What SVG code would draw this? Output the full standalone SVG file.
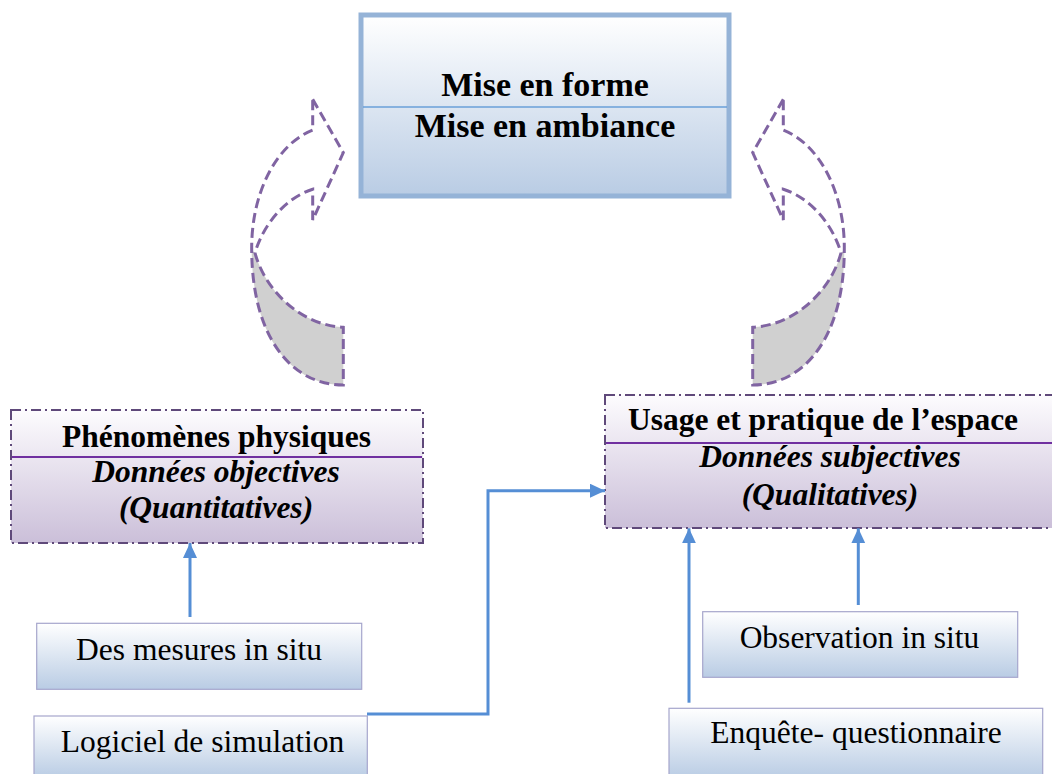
<svg xmlns="http://www.w3.org/2000/svg" width="1052" height="774" viewBox="0 0 1052 774">
<defs>
<linearGradient id="gBlue" x1="0" y1="0" x2="0" y2="1">
<stop offset="0" stop-color="#ffffff"/><stop offset="1" stop-color="#b9cce4"/>
</linearGradient>
<linearGradient id="gPurple" x1="0" y1="0" x2="0" y2="1">
<stop offset="0" stop-color="#fdfcfe"/><stop offset="1" stop-color="#cbbfd9"/>
</linearGradient>
<marker id="ah" markerUnits="userSpaceOnUse" markerWidth="16" markerHeight="15" refX="15" refY="7" orient="auto">
<path d="M0,0 L15,7 L0,14 Z" fill="#558ed5"/>
</marker>
<g id="curl">
<path d="M 255,253 C 265,290 300,325 343.3,327.3 L 343.3,385 C 290,385 252,335 251.7,250 Z" fill="#d0d0d0"/>
<path d="M 312.7,99.3 L 343.3,152.7 L 312.7,220 L 312.7,189.3 C 285,198 263,225 255,253 C 265,290 300,325 343.3,327.3 L 343.3,385 C 290,385 252,335 251.7,250 C 251,195 275,145 312.7,130 Z" fill="none" stroke="#8064a2" stroke-width="3" stroke-dasharray="10 5"/>
</g>
</defs>
<style>
text{font-family:"Liberation Serif","Times New Roman",serif;fill:#000;text-anchor:middle}
.b{font-weight:bold}
.bi{font-weight:bold;font-style:italic}
.src{fill:url(#gBlue);stroke:#a6a6cc;stroke-width:1.2}
.pbox{fill:url(#gPurple);stroke:#5f497a;stroke-width:2;stroke-dasharray:10 4 2 4}
.pdiv{stroke:#7030a0;stroke-width:2}
.conn{fill:none;stroke:#558ed5;stroke-width:3;marker-end:url(#ah)}
</style>

<g id="curl-left"><use href="#curl"/></g>
<g id="curl-right"><use href="#curl" transform="matrix(-1 0 0 1 1096 0)"/></g>

<g id="top-box">
<rect x="361" y="15" width="368" height="181" fill="url(#gBlue)" stroke="#95b3d7" stroke-width="5"/>
<line x1="363" y1="107" x2="727" y2="107" stroke="#6a9fd8" stroke-width="1.5"/>
<text class="b" x="545" y="96" font-size="34">Mise en forme</text>
<text class="b" x="545" y="137" font-size="34">Mise en ambiance</text>
</g>

<g id="phenomenes">
<rect class="pbox" x="11" y="410" width="412" height="133"/>
<line class="pdiv" x1="12" y1="457" x2="422" y2="457"/>
<text class="b" x="216.5" y="447" font-size="31.5">Phénomènes physiques</text>
<text class="bi" x="216" y="482" font-size="31.5">Données objectives</text>
<text class="bi" x="216" y="518" font-size="31.5">(Quantitatives)</text>
</g>

<g id="usage">
<rect class="pbox" x="605" y="395" width="452" height="133"/>
<line class="pdiv" x1="606" y1="443" x2="1052" y2="443"/>
<text class="b" x="823" y="430" font-size="31.5">Usage et pratique de l’espace</text>
<text class="bi" x="830" y="467" font-size="31.5">Données subjectives</text>
<text class="bi" x="830" y="505" font-size="31.5">(Qualitatives)</text>
</g>

<g id="mesures">
<rect class="src" x="36.7" y="623.3" width="325" height="66"/>
<text x="199" y="660" font-size="31.5">Des mesures in situ</text>
</g>

<g id="logiciel">
<rect class="src" x="34" y="716" width="333.3" height="62"/>
<text x="202.5" y="752" font-size="31.5">Logiciel de simulation</text>
</g>

<g id="observation">
<rect class="src" x="702.7" y="611.7" width="315" height="65.6"/>
<text x="859.5" y="648" font-size="31.5">Observation in situ</text>
</g>

<g id="enquete">
<rect class="src" x="669" y="708.3" width="373.7" height="70"/>
<text x="856" y="743" font-size="31.5">Enquête- questionnaire</text>
</g>

<g id="connectors">
<path class="conn" d="M190,617 L190,543"/>
<path class="conn" d="M367,714 L488,714 L488,490.7 L605,490.7"/>
<path class="conn" d="M858.3,605 L858.3,528.3"/>
<path class="conn" d="M689,702.7 L689,528.3"/>
</g>
</svg>
